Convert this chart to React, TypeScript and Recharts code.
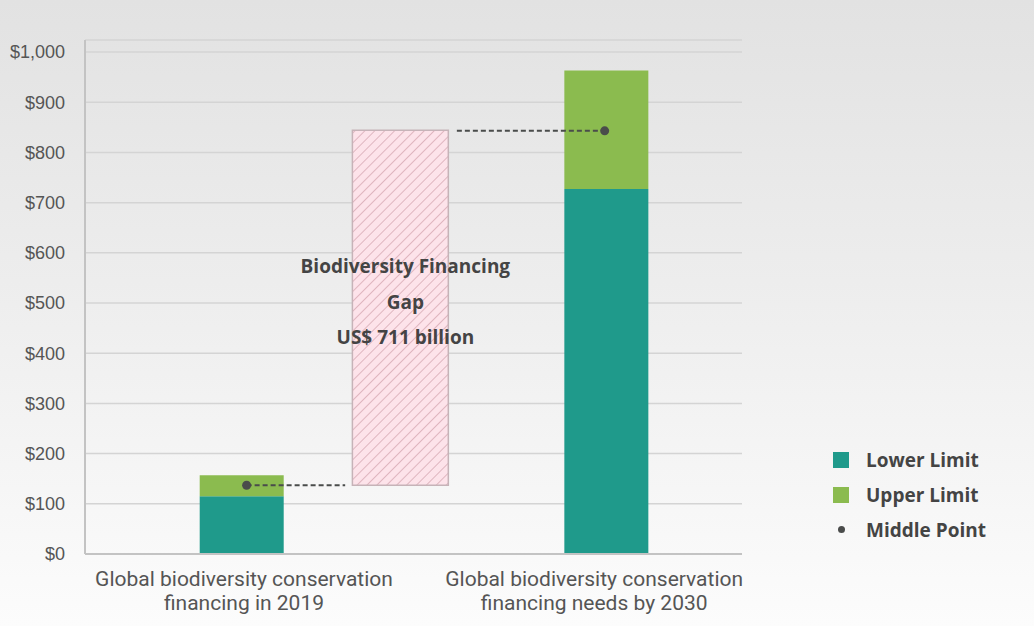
import React from 'react'
import {
  ComposedChart,
  Bar,
  Scatter,
  XAxis,
  YAxis,
  CartesianGrid,
  ReferenceArea,
  ReferenceLine,
  Legend,
} from 'recharts'

// values in US$ billion
const categories = [
  ['Global biodiversity conservation', 'financing in 2019'],
  ['Global biodiversity conservation', 'financing needs by 2030'],
]
const lowerLimit = [115, 727]
const upperLimit = [157, 963]
const middlePoint = [137, 843]
const gapRange = [137, 844]
const gapText = ['Biodiversity Financing', 'Gap', 'US$ 711 billion']
const yTicks = [0, 100, 200, 300, 400, 500, 600, 700, 800, 900, 1000]
const legendItems = [
  { label: 'Lower Limit', kind: 'square', color: '#1f9a8b' },
  { label: 'Upper Limit', kind: 'square', color: '#8bbb4f' },
  { label: 'Middle Point', kind: 'dot', color: '#4a4c4b' },
]

// layout on a 0..100 horizontal axis
const barX = [23.9, 79.4]
const dotX = [24.6, 79.1]
const labelX = [24.2, 77.5]
const gapX = [40.7, 55.3]
const linkLeft = [dotX[0], 39.6]
const linkRight = [56.6, dotX[1]]

const TEAL = '#1f9a8b'
const GREEN = '#8bbb4f'
const DOT = '#4a4c4b'

const rows = categories.map((_, i) => ({
  x: barX[i],
  lower: lowerLimit[i],
  upper: upperLimit[i] - lowerLimit[i],
}))
const dots = categories.map((_, i) => ({ x: dotX[i], mid: middlePoint[i] }))

const fmt = (v: number) => '$' + v.toLocaleString('en-US')

function CategoryTick(props: any) {
  const { x, y, index } = props
  const lines = categories[index] || []
  return (
    <text x={x} y={y + 24} textAnchor="middle" fill="#555" fontSize={21} fontFamily="Roboto">
      {lines.map((l, i) => (
        <tspan key={i} x={x} dy={i === 0 ? 0 : 23.5}>
          {l}
        </tspan>
      ))}
    </text>
  )
}

function GapLabel(props: any) {
  const { viewBox } = props
  const cx = viewBox.x + viewBox.width / 2 + 5
  const cy = viewBox.y + viewBox.height / 2 - 6
  return (
    <text
      x={cx}
      y={cy}
      textAnchor="middle"
      fill="#444"
      fontSize={19}
      fontWeight={700}
      fontFamily="Open Sans"
    >
      {gapText.map((t, i) => (
        <tspan key={i} x={cx} y={cy + (i - 1) * 35.5} dominantBaseline="central">
          {t}
        </tspan>
      ))}
    </text>
  )
}

function LegendBox() {
  return (
    <div style={{ fontFamily: 'Open Sans', fontWeight: 700, fontSize: 19, color: '#444' }}>
      {legendItems.map((it) => (
        <div key={it.label} style={{ display: 'flex', alignItems: 'center', height: 35 }}>
          <span
            style={{
              width: 16,
              height: 16,
              display: 'flex',
              justifyContent: 'center',
              alignItems: 'center',
              marginRight: 17,
            }}
          >
            {it.kind === 'square' ? (
              <span style={{ width: 16, height: 16, background: it.color }} />
            ) : (
              <span style={{ width: 7, height: 7, borderRadius: '50%', background: it.color }} />
            )}
          </span>
          {it.label}
        </div>
      ))}
    </div>
  )
}

export default function App() {
  return (
    <div
      style={{
        position: 'fixed',
        left: 0,
        top: 0,
        width: 1034,
        height: 626,
        background: 'linear-gradient(to bottom, #e2e2e2 0%, #ededed 45%, #fcfcfc 100%)',
      }}
    >
      <ComposedChart width={1034} height={626} data={rows} margin={{ top: 40, right: 292, bottom: 12, left: 0 }}>
        <defs>
          <pattern id="hatch" patternUnits="userSpaceOnUse" width="7" height="7" patternTransform="rotate(45)">
            <rect width="7" height="7" fill="#fde3ea" />
            <line x1="0" y1="0" x2="0" y2="7" stroke="#d8a9b4" strokeWidth="1.6" />
          </pattern>
        </defs>
        <CartesianGrid vertical={false} stroke="#d4d4d4" strokeWidth={1.5} />
        <XAxis
          xAxisId="main"
          dataKey="x"
          type="number"
          domain={[0, 100]}
          ticks={labelX}
          tick={<CategoryTick />}
          tickLine={false}
          axisLine={{ stroke: '#c3c3c3', strokeWidth: 2 }}
          height={60}
          interval={0}
        />
        <XAxis xAxisId="bars" dataKey="x" type="number" domain={[0, 100]} orientation="top" height={0} hide />
        <YAxis
          domain={[0, 1024]}
          ticks={yTicks}
          tickFormatter={fmt}
          width={85}
          tickLine={false}
          tickMargin={14}
          axisLine={{ stroke: '#c3c3c3', strokeWidth: 2 }}
          tick={{ fill: '#555', fontSize: 18, fontFamily: 'Liberation Sans' }}
          interval={0}
        />
        <ReferenceArea
          xAxisId="main"
          x1={gapX[0]}
          x2={gapX[1]}
          y1={gapRange[0]}
          y2={gapRange[1]}
          fill="url(#hatch)"
          fillOpacity={1}
          stroke="#c6b3b8"
          strokeWidth={1.5}
          label={<GapLabel />}
        />
        <Bar xAxisId="bars" dataKey="lower" name="Lower Limit" stackId="a" fill={TEAL} barSize={84} isAnimationActive={false} />
        <Bar xAxisId="bars" dataKey="upper" name="Upper Limit" stackId="a" fill={GREEN} barSize={84} isAnimationActive={false} />
        <ReferenceLine
          xAxisId="main"
          segment={[
            { x: linkLeft[0], y: middlePoint[0] },
            { x: linkLeft[1], y: middlePoint[0] },
          ]}
          stroke={DOT}
          strokeWidth={2}
          strokeDasharray="5 3"
        />
        <ReferenceLine
          xAxisId="main"
          segment={[
            { x: linkRight[0], y: middlePoint[1] },
            { x: linkRight[1], y: middlePoint[1] },
          ]}
          stroke={DOT}
          strokeWidth={2}
          strokeDasharray="5 3"
        />
        <Scatter
          xAxisId="main"
          data={dots}
          dataKey="mid"
          name="Middle Point"
          fill={DOT}
          isAnimationActive={false}
          shape={(p: any) => <circle cx={p.cx} cy={p.cy} r={4.5} fill={DOT} />}
        />
        <Legend
          layout="vertical"
          align="center"
          verticalAlign="middle"
          width={200}
          wrapperStyle={{ left: 833, top: 442 }}
          content={() => <LegendBox />}
        />
      </ComposedChart>
    </div>
  )
}
